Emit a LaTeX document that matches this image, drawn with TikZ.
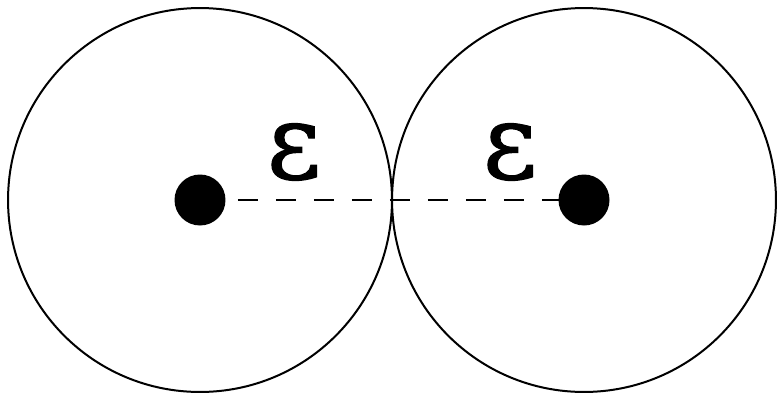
\documentclass[tikz,border=0pt]{standalone}
\usepackage{fontspec}
\newfontfamily\epsfont[FakeBold=1]{DejaVu Serif}
\usetikzlibrary{positioning}

\tikzset{
  ball/.style={circle,draw=black,line width=0.04cm,inner sep=0pt,minimum size=7.68cm},
  centre/.style={circle,fill=black,inner sep=0pt,minimum size=1.02cm},
  epslabel/.style={inner sep=0pt,font=\epsfont\fontsize{60}{60}\selectfont}
}

\begin{document}
\begin{tikzpicture}[x=0.02cm,y=0.02cm]
\path[use as bounding box] (0,0) rectangle (777,397);
% the two balls
\node[ball] (ballL) at (200,197) {};
\node[ball] (ballR) at (584,197) {};
% distance between the centres
\draw[line width=0.04cm,dash pattern=on 0.4cm off 0.36cm] (ballL.center) -- (ballR.center);
\node[centre] (dotL) at (ballL.center) {};
\node[centre] (dotR) at (ballR.center) {};
\node[epslabel] (epsL) at (294,245) {ε};
\node[epslabel] (epsR) at (510,245) {ε};
\end{tikzpicture}
\end{document}
